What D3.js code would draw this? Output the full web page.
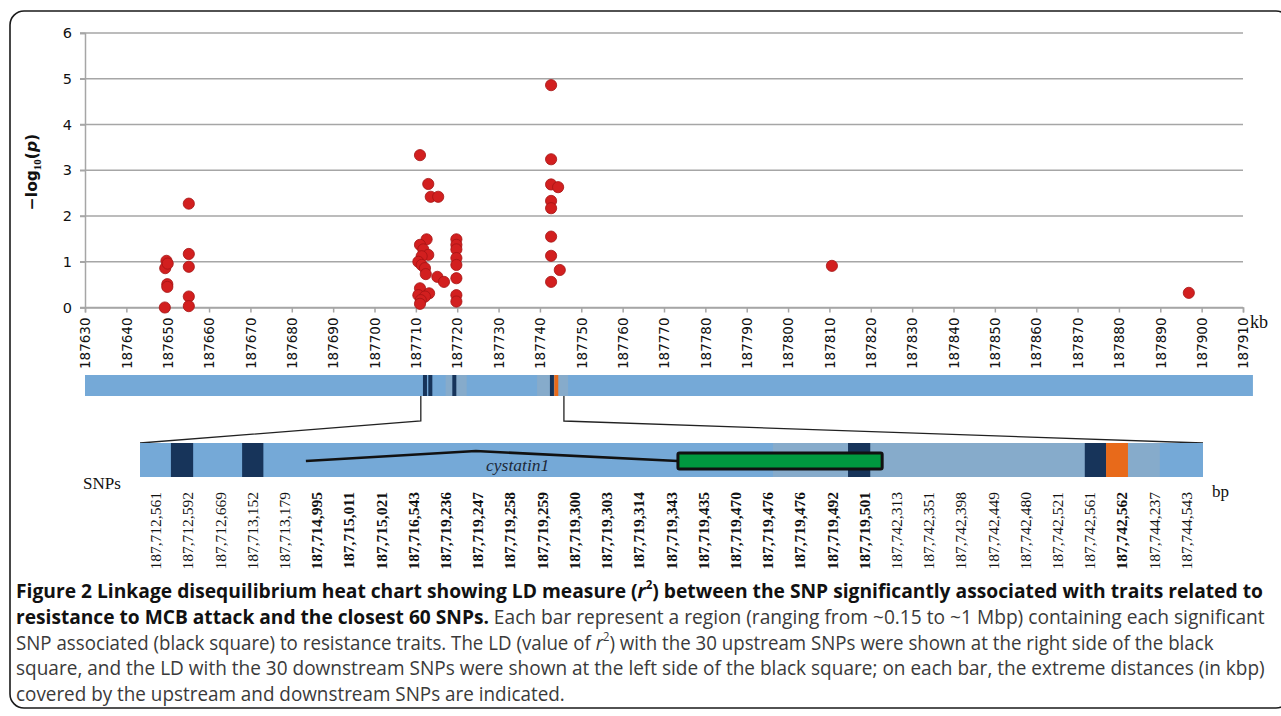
<!DOCTYPE html>
<html>
<head>
<meta charset="utf-8">
<script src="https://cdn.jsdelivr.net/npm/d3@7"></script>
<style>
  html, body { margin: 0; padding: 0; background: #fff; }
  svg { display: block; }
</style>
</head>
<body>
<svg id="fig" width="1281" height="716"></svg>
<script>
// ---------- data ----------
// Association scan: SNP position (kb) and -log10(p)
const snpKb = [
  187649.3, 187649.7, 187649.4, 187650.0, 187649.9, 187649.9,
  187655.1, 187655.1, 187655.1, 187655.1, 187655.1,
  187711.0, 187713.0, 187713.6, 187715.4, 187712.6, 187711.0, 187711.8, 187713.0,
  187711.4, 187710.6, 187711.4, 187712.2, 187712.4, 187715.2, 187716.8, 187711.0,
  187713.2, 187710.6, 187712.2, 187711.2, 187711.0,
  187719.8, 187719.8, 187719.8, 187719.8, 187719.8, 187719.8, 187719.8, 187719.8,
  187742.7, 187742.7, 187742.7, 187742.7, 187742.7, 187742.7, 187742.7, 187742.7,
  187744.4, 187744.8,
  187810.6, 187896.9
];
const snpLogP = [
  0.00, 1.02, 0.86, 0.96, 0.51, 0.45,
  2.27, 1.17, 0.89, 0.24, 0.03,
  3.33, 2.70, 2.42, 2.42, 1.49, 1.37, 1.27, 1.15,
  1.12, 1.00, 0.93, 0.86, 0.73, 0.67, 0.56, 0.42,
  0.31, 0.27, 0.24, 0.16, 0.08,
  1.49, 1.37, 1.27, 1.08, 0.93, 0.64, 0.27, 0.13,
  4.86, 3.24, 2.69, 2.33, 2.17, 1.55, 1.13, 0.56,
  2.63, 0.82,
  0.91, 0.32
];
const kbTicks = [187630, 187640, 187650, 187660, 187670, 187680, 187690, 187700,
  187710, 187720, 187730, 187740, 187750, 187760, 187770, 187780, 187790, 187800,
  187810, 187820, 187830, 187840, 187850, 187860, 187870, 187880, 187890, 187900, 187910];
const yTicks = [0, 1, 2, 3, 4, 5, 6];

// Chromosome overview bar (kb)
const regionEndKb = 187912.4;
const leadSnpKb = [187712.2, 187713.5, 187719.3, 187742.9];
const hitSnpKb = [187743.95];
const ldBlockStartKb = [187717.2, 187739.3];
const ldBlockEndKb = [187722.3, 187746.8];
const zoomStartKb = 187711.2;
const zoomEndKb = 187745.8;

// Zoomed SNP heat bar
const snpLabels = [
  "187,712,561", "187,712,592", "187,712,669", "187,713,152", "187,713,179",
  "187,714,995", "187,715,011", "187,715,021", "187,716,543", "187,719,236",
  "187,719,247", "187,719,258", "187,719,259", "187,719,300", "187,719,303",
  "187,719,314", "187,719,343", "187,719,435", "187,719,470", "187,719,476",
  "187,719,476", "187,719,492", "187,719,501", "187,742,313", "187,742,351",
  "187,742,398", "187,742,449", "187,742,480", "187,742,521", "187,742,561",
  "187,742,562", "187,744,237", "187,744,543"
];
const snpInGene = [false, false, false, false, false,
  true, true, true, true, true, true, true, true, true, true, true, true, true,
  true, true, true, true, true,
  false, false, false, false, false, false, false, true, false, false];
// LD cells in SNP-slot units: start, end, class
const ldCellStart = [19.65, 0.96, 3.17, 21.98, 29.33, 29.99];
const ldCellEnd   = [31.66, 1.65, 3.83, 22.67, 29.99, 30.67];
const ldCellClass = ["mid", "lead", "lead", "lead", "lead", "hit"];
// cystatin1 gene model (SNP-slot units)
const geneIntron = [5.15, 16.70];
const geneExon = [16.70, 23.04];
const geneName = "cystatin1";

// ---------- drawing ----------
const svg = d3.select("#fig");
const C = {
  base: "#75a9d7", mid: "#86abcb", lead: "#17345a", hit: "#e86a1a",
  grid: "#a6a6a6", dot: "#d21f1f", dotStroke: "#a51414", exon: "#00993f"
};

// frame
svg.append("rect").attr("x", 10).attr("y", 11).attr("width", 1280).attr("height", 697)
  .attr("rx", 14).attr("fill", "none").attr("stroke", "#1a1a1a").attr("stroke-width", 1.6);

const x = d3.scaleLinear().domain([187630, 187910]).range([85, 1243]);
const y = d3.scaleLinear().domain([0, 6]).range([307.5, 33]);

// grid lines
svg.append("g").selectAll("line").data(yTicks).join("line")
  .attr("x1", 80).attr("x2", x(187910))
  .attr("y1", d => y(d)).attr("y2", d => y(d))
  .attr("stroke", C.grid).attr("stroke-width", 1.5);

// y axis
const yAxis = svg.append("g").attr("transform", "translate(85,0)")
  .call(d3.axisLeft(y).tickValues(yTicks).tickSize(5).tickFormat(d3.format("d")));
yAxis.select(".domain").attr("stroke", C.grid).attr("stroke-width", 1.5);
yAxis.selectAll(".tick line").attr("stroke", C.grid).attr("stroke-width", 1.5);
yAxis.selectAll("text").attr("font-family", "DejaVu Sans").attr("font-size", 14.5)
  .attr("fill", "#111").attr("x", -13);

// x axis
const xAxis = svg.append("g").attr("transform", `translate(0,${y(0)})`)
  .call(d3.axisBottom(x).tickValues(kbTicks).tickSize(5).tickFormat(d3.format("d")));
xAxis.select(".domain").attr("stroke", C.grid).attr("stroke-width", 1.5);
xAxis.selectAll(".tick line").attr("stroke", C.grid).attr("stroke-width", 1.5);
xAxis.selectAll("text")
  .attr("font-family", "DejaVu Sans").attr("font-size", 13.5).attr("fill", "#111")
  .attr("transform", "rotate(-90)").attr("text-anchor", "end")
  .attr("x", -10).attr("y", 0).attr("dy", "0.35em");

svg.append("text").attr("x", 1250).attr("y", 328)
  .attr("font-family", "Liberation Serif").attr("font-size", 18).attr("fill", "#111")
  .text("kb");

// y title
const yt = svg.append("text").attr("transform", "translate(37,172) rotate(-90)")
  .attr("text-anchor", "middle").attr("font-family", "DejaVu Sans")
  .attr("font-weight", "bold").attr("font-size", 15.5).attr("fill", "#111");
yt.append("tspan").text("\u2212log");
yt.append("tspan").attr("font-size", 11).attr("dy", 4).attr("font-family", "Liberation Serif").text("10");
yt.append("tspan").attr("dy", -4).text("(");
yt.append("tspan").attr("font-style", "italic").text("p");
yt.append("tspan").text(")");

// points
svg.append("g").selectAll("circle").data(snpKb).join("circle")
  .attr("cx", d => x(d)).attr("cy", (d, i) => y(snpLogP[i])).attr("r", 5.6)
  .attr("fill", C.dot).attr("stroke", C.dotStroke).attr("stroke-width", 0.8);

// ---------- chromosome overview bar ----------
const barTop = 375, barH = 21;
svg.append("rect").attr("x", x(187630)).attr("y", barTop)
  .attr("width", x(regionEndKb) - x(187630)).attr("height", barH).attr("fill", C.base);
svg.append("g").selectAll("rect").data(ldBlockStartKb).join("rect")
  .attr("x", d => x(d)).attr("y", barTop)
  .attr("width", (d, i) => x(ldBlockEndKb[i]) - x(d)).attr("height", barH)
  .attr("fill", C.mid);
svg.append("g").selectAll("rect").data(leadSnpKb).join("rect")
  .attr("x", d => x(d) - 2).attr("y", barTop).attr("width", 4).attr("height", barH)
  .attr("fill", C.lead);
svg.append("g").selectAll("rect").data(hitSnpKb).join("rect")
  .attr("x", d => x(d) - 2).attr("y", barTop).attr("width", 4).attr("height", barH)
  .attr("fill", C.hit);

// ---------- zoomed SNP bar ----------
const cell = d3.scaleLinear().domain([0, snpLabels.length]).range([140, 1203]);
const zTop = 443, zH = 34;
const kneeY = 421;

// connectors from overview to zoomed bar
const conn = d3.line();
svg.append("path").attr("d", conn([[x(zoomStartKb), barTop + barH], [x(zoomStartKb), kneeY], [cell(0), zTop]]))
  .attr("fill", "none").attr("stroke", "#222").attr("stroke-width", 1.3);
svg.append("path").attr("d", conn([[x(zoomEndKb), barTop + barH], [x(zoomEndKb), kneeY], [cell(snpLabels.length), zTop]]))
  .attr("fill", "none").attr("stroke", "#222").attr("stroke-width", 1.3);

svg.append("rect").attr("x", cell(0)).attr("y", zTop)
  .attr("width", cell(snpLabels.length) - cell(0)).attr("height", zH).attr("fill", C.base);
svg.append("g").selectAll("rect").data(ldCellStart).join("rect")
  .attr("x", d => cell(d)).attr("y", zTop)
  .attr("width", (d, i) => cell(ldCellEnd[i]) - cell(d)).attr("height", zH)
  .attr("fill", (d, i) => C[ldCellClass[i]]);

// gene model: intron hat + exon box
const hatMid = (geneIntron[0] + geneIntron[1]) / 2;
svg.append("path")
  .attr("d", d3.line()([[cell(geneIntron[0]), 461], [cell(hatMid - 0.5), 451], [cell(geneIntron[1]), 461]]))
  .attr("fill", "none").attr("stroke", "#111").attr("stroke-width", 2.6);
svg.append("rect").attr("x", cell(geneExon[0])).attr("y", 453)
  .attr("width", cell(geneExon[1]) - cell(geneExon[0])).attr("height", 16)
  .attr("rx", 1.5).attr("fill", C.exon).attr("stroke", "#111").attr("stroke-width", 3);
svg.append("text").attr("x", cell(hatMid + 0.8)).attr("y", 471).attr("text-anchor", "middle")
  .attr("font-family", "Liberation Serif").attr("font-style", "italic").attr("font-size", 17.5)
  .attr("fill", "#1d2a3a").text(geneName);

svg.append("text").attr("x", 83).attr("y", 489)
  .attr("font-family", "Liberation Serif").attr("font-size", 17).attr("fill", "#111").text("SNPs");
svg.append("text").attr("x", 1212).attr("y", 497)
  .attr("font-family", "Liberation Serif").attr("font-size", 17).attr("fill", "#111").text("bp");

// SNP position labels
svg.append("g").selectAll("text").data(snpLabels).join("text")
  .attr("transform", (d, i) => `translate(${cell(i + 0.5) + 5},492) rotate(-90)`)
  .attr("text-anchor", "end")
  .attr("font-family", "Liberation Serif").attr("font-size", 15.5)
  .attr("font-weight", (d, i) => snpInGene[i] ? "bold" : "normal")
  .attr("fill", "#111").text(d => d);

// ---------- caption ----------
// Each line is set at natural width, then condensed horizontally to its measure.
const capFont = "Open Sans";
const capLines = [
  { y: 598, w: 1248, parts: [
    { t: "Figure 2 Linkage disequilibrium heat chart showing LD measure (", b: true },
    { t: "r", b: true, i: true }, { t: "2", b: true, sup: true },
    { t: ") between the SNP significantly associated with traits related to", b: true, down: true }] },
  { y: 624, w: 1249, parts: [
    { t: "resistance to MCB attack and the closest 60 SNPs.", b: true },
    { t: " Each bar represent a region (ranging from ~0.15 to ~1 Mbp) containing each significant" }] },
  { y: 650, w: 1198, parts: [
    { t: "SNP associated (black square) to resistance traits. The LD (value of " },
    { t: "r", i: true }, { t: "2", sup: true },
    { t: ") with the 30 upstream SNPs were shown at the right side of the black", down: true }] },
  { y: 675, w: 1249, parts: [
    { t: "square, and the LD with the 30 downstream SNPs were shown at the left side of the black square; on each bar, the extreme distances (in kbp)" }] },
  { y: 701, w: 549, parts: [
    { t: "covered by the upstream and downstream SNPs are indicated." }] }
];
capLines.forEach(line => {
  const g = svg.append("g");
  const t = g.append("text").attr("x", 0).attr("y", 0)
    .attr("font-family", capFont).attr("font-size", 20);
  line.parts.forEach(p => {
    const s = t.append("tspan").text(p.t)
      .attr("font-weight", p.b ? "bold" : "normal")
      .attr("fill", p.b ? "#111" : "#3a3a3a");
    if (p.i) s.attr("font-style", "italic");
    if (p.sup) s.attr("font-size", 12).attr("dy", -9);
    if (p.down) s.attr("dy", 9);
  });
  const natural = t.node().getComputedTextLength();
  g.attr("transform", `translate(16,${line.y}) scale(${line.w / natural},1)`);
});
</script>
</body>
</html>
